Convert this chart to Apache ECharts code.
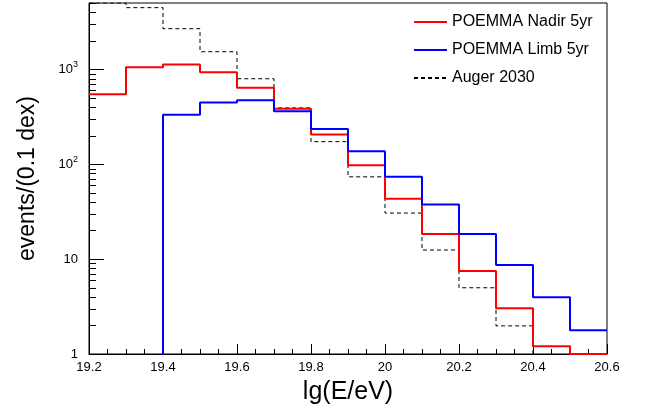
<!DOCTYPE html>
<html>
<head>
<meta charset="utf-8">
<script src="https://cdn.jsdelivr.net/npm/echarts@6/dist/echarts.min.js"></script>
<style>
html,body{margin:0;padding:0;background:#fff;}
#chart{width:649px;height:415px;}
</style>
</head>
<body>
<div id="chart"></div>
<script>
// bin edges (lg E/eV), 0.1 dex bins
const binEdges = [19.2,19.3,19.4,19.5,19.6,19.7,19.8,19.9,20.0,20.1,20.2,20.3,20.4,20.5,20.6];
// events per 0.1 dex bin (0 = empty bin)
const nadir5yr = [551,1063,1135,941,644,386,207,98,43.5,18.5,7.5,3.04,1.21,1.0];
const limb5yr  = [0,0,334,450,476,364,237,138,74.3,37.9,18.4,8.7,3.97,1.78];
const auger2030 = [5050,4510,2705,1546,802,395,174,74,30.7,12.5,5.0,1.98,0,0];
const xTicks = [19.2,19.4,19.6,19.8,20.0,20.2,20.4,20.6];
const yMajorTicks = [1,10,100,1000];
const yMinorTicks = [2,3,4,5,6,7,8,9,20,30,40,50,60,70,80,90,200,300,400,500,600,700,800,900,2000,3000,4000,5000];

const seriesNames = ['POEMMA Nadir 5yr','POEMMA Limb 5yr','Auger 2030'];
const FLOOR = 0.01; // empty bins are drawn below the axis floor and clipped

function histPoints(vals){
  const pts = [];
  for (let i = 0; i < vals.length; i++) {
    pts.push([binEdges[i], vals[i] > 0 ? vals[i] : FLOOR]);
  }
  const last = vals[vals.length-1];
  pts.push([binEdges[binEdges.length-1], last > 0 ? last : FLOOR]);
  return pts;
}

const FONT = 'Liberation Sans, Arial, sans-serif';
const chart = echarts.init(document.getElementById('chart'));
chart.setOption({
  animation: false,
  grid: {left: 89, right: 42, top: 3, bottom: 61, show: true, borderColor: '#000', borderWidth: 1, backgroundColor: 'transparent'},
  legend: {
    orient: 'vertical', left: 408, top: 9, padding: 5, itemWidth: 33, itemHeight: 14, itemGap: 12,
    itemStyle: {opacity: 0},
    textStyle: {fontFamily: FONT, fontSize: 16, color: '#000'},
    data: seriesNames
  },
  xAxis: {
    type: 'value', min: xTicks[0], max: xTicks[xTicks.length-1], interval: 0.2,
    axisLine: {lineStyle: {color: '#000', width: 1}},
    axisTick: {inside: true, length: 10, lineStyle: {color: '#000'}},
    minorTick: {show: true, splitNumber: 4, length: 5, lineStyle: {color: '#000'}},
    splitLine: {show: false},
    axisLabel: {fontFamily: FONT, fontSize: 13, color: '#000', margin: 7},
    name: 'lg(E/eV)', nameLocation: 'middle', nameGap: 26,
    nameTextStyle: {fontFamily: FONT, fontSize: 25, color: '#000'}
  },
  yAxis: [{
    type: 'log', logBase: 10, min: 1, max: 5050,
    axisLine: {show: true, lineStyle: {color: '#000', width: 1}},
    axisTick: {show: true, inside: true, length: 15, lineStyle: {color: '#000'}, customValues: yMajorTicks},
    splitLine: {show: false},
    axisLabel: {
      fontFamily: FONT, fontSize: 13, color: '#000', margin: 11, customValues: yMajorTicks,
      formatter: function(v){
        const e = Math.round(Math.log10(v));
        if (e <= 1) return String(Math.round(v));
        return '10{sup|' + e + '}';
      },
      rich: {sup: {fontFamily: FONT, fontSize: 9, color: '#000', padding: [0,0,10,0]}}
    },
    name: 'events/(0.1 dex)', nameLocation: 'middle', nameGap: 50, nameRotate: 90,
    nameTextStyle: {fontFamily: FONT, fontSize: 23, color: '#000'}
  },{
    type: 'log', logBase: 10, min: 1, max: 5050, position: 'left',
    axisLine: {show: false},
    axisTick: {show: true, inside: true, length: 7, lineStyle: {color: '#000'}, customValues: yMinorTicks},
    axisLabel: {show: false},
    splitLine: {show: false}
  }],
  series: [
    {name: seriesNames[0], type: 'line', step: 'end', showSymbol: false, symbol: 'none', clip: true,
     lineStyle: {color: '#ff0000', width: 2}, itemStyle: {color: '#ff0000'}, data: histPoints(nadir5yr), z: 3},
    {name: seriesNames[1], type: 'line', step: 'end', showSymbol: false, symbol: 'none', clip: true,
     lineStyle: {color: '#0000ff', width: 2}, itemStyle: {color: '#0000ff'}, data: histPoints(limb5yr), z: 4},
    {name: seriesNames[2], type: 'line', step: 'end', showSymbol: false, symbol: 'none', clip: true,
     lineStyle: {color: '#000', width: 1, type: [4,3]}, itemStyle: {color: '#000'}, data: histPoints(auger2030), z: 2}
  ]
});
</script>
</body>
</html>
